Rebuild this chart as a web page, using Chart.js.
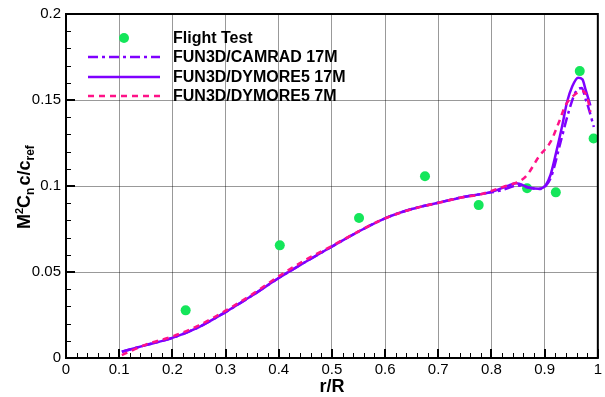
<!DOCTYPE html>
<html>
<head>
<meta charset="utf-8">
<script src="https://cdn.jsdelivr.net/npm/chart.js@4.4.1/dist/chart.umd.min.js"></script>
<style>
  html, body { margin: 0; padding: 0; background: #fff; }
  #wrap { width: 605px; height: 397px; }
</style>
</head>
<body>
<div id="wrap"><canvas id="chart-cn" width="605" height="397"></canvas></div>
<script>
// Flight test data
var rTest  = [0.225, 0.402, 0.551, 0.675, 0.776, 0.867, 0.921, 0.966, 0.992];
var cnTest = [0.0277, 0.0655, 0.0814, 0.1057, 0.0889, 0.0987, 0.0963, 0.1668, 0.1276];

// FUN3D/DYMORE5 17M (solid)
var rDym17  = [0.105, 0.15, 0.2, 0.25, 0.3, 0.35, 0.4, 0.45, 0.5, 0.55, 0.6, 0.65, 0.7, 0.75, 0.8, 0.83, 0.846, 0.871, 0.889, 0.902, 0.911, 0.922, 0.933, 0.942, 0.952, 0.963, 0.971, 0.977, 0.986];
var cnDym17 = [0.0036, 0.0075, 0.0117, 0.018, 0.0267, 0.0363, 0.0465, 0.0558, 0.0648, 0.0735, 0.0812, 0.0866, 0.0903, 0.0938, 0.0966, 0.1, 0.1016, 0.0991, 0.0984, 0.1005, 0.1064, 0.12, 0.135, 0.1487, 0.158, 0.163, 0.162, 0.156, 0.1468];

// FUN3D/CAMRAD 17M (dash-dot)
var rCam17  = [0.105, 0.15, 0.2, 0.25, 0.3, 0.35, 0.4, 0.45, 0.5, 0.55, 0.6, 0.65, 0.7, 0.75, 0.8, 0.82, 0.85, 0.871, 0.889, 0.902, 0.913, 0.93, 0.945, 0.958, 0.97, 0.977, 0.983, 0.9925];
var cnCam17 = [0.0036, 0.0075, 0.0117, 0.018, 0.0267, 0.0363, 0.0465, 0.0558, 0.0648, 0.0735, 0.0812, 0.0866, 0.0903, 0.0938, 0.0963, 0.0976, 0.1003, 0.099, 0.0982, 0.1, 0.106, 0.1256, 0.143, 0.1545, 0.157, 0.1505, 0.1449, 0.1343];

// FUN3D/DYMORE5 7M (dashed)
var rDym7  = [0.105, 0.15, 0.2, 0.25, 0.3, 0.35, 0.4, 0.45, 0.5, 0.55, 0.6, 0.65, 0.7, 0.75, 0.777, 0.8, 0.83, 0.852, 0.867, 0.889, 0.911, 0.927, 0.939, 0.955, 0.9706, 0.98, 0.986];
var cnDym7 = [0.0017, 0.0078, 0.0125, 0.019, 0.0275, 0.037, 0.0475, 0.057, 0.0652, 0.0736, 0.0812, 0.0865, 0.0902, 0.0937, 0.0949, 0.0972, 0.1003, 0.1026, 0.1064, 0.117, 0.1256, 0.1372, 0.1468, 0.1527, 0.1553, 0.1516, 0.143];

var xTickValues = [0, 0.1, 0.2, 0.3, 0.4, 0.5, 0.6, 0.7, 0.8, 0.9, 1];
var xTickLabels = ['0', '0.1', '0.2', '0.3', '0.4', '0.5', '0.6', '0.7', '0.8', '0.9', '1'];
var yTickValues = [0, 0.05, 0.1, 0.15, 0.2];
var yTickLabels = ['0', '0.05', '0.1', '0.15', '0.2'];

var seriesNames = ['Flight Test', 'FUN3D/CAMRAD 17M', 'FUN3D/DYMORE5 17M', 'FUN3D/DYMORE5 7M'];

var GREEN = '#14e65a';
var PURPLE = '#7f00ff';
var PINK = '#ff1288';
var FONT = '"Liberation Sans", Arial, Helvetica, sans-serif';

function toXY(xs, ys) {
  return xs.map(function (x, i) { return { x: x, y: ys[i] }; });
}

function labelFor(values, labels) {
  return function (v) {
    for (var i = 0; i < values.length; i++) {
      if (Math.abs(values[i] - v) < 1e-9) return labels[i];
    }
    return '';
  };
}

// frame, inward ticks, legend and axis titles
var decorPlugin = {
  id: 'decor',
  afterDatasetsDraw: function (chart) {
    var ctx = chart.ctx;
    var a = chart.chartArea;
    var xs = chart.scales.x, ys = chart.scales.y;
    var i, p;
    ctx.save();
    ctx.strokeStyle = '#000';
    // minor ticks
    ctx.lineWidth = 1;
    ctx.beginPath();
    for (i = 1; i < 50; i++) {
      if (i % 5 === 0) continue;
      p = Math.round(xs.getPixelForValue(i * 0.02)) + 0.5;
      ctx.moveTo(p, a.bottom); ctx.lineTo(p, a.bottom - 5);
    }
    for (i = 1; i < 20; i++) {
      if (i % 5 === 0) continue;
      p = Math.round(ys.getPixelForValue(i * 0.01)) + 0.5;
      ctx.moveTo(a.left, p); ctx.lineTo(a.left + 5, p);
    }
    ctx.stroke();
    // major ticks
    ctx.lineWidth = 2;
    ctx.beginPath();
    xTickValues.forEach(function (v) {
      p = Math.round(xs.getPixelForValue(v));
      ctx.moveTo(p, a.bottom); ctx.lineTo(p, a.bottom - 9);
    });
    yTickValues.forEach(function (v) {
      p = Math.round(ys.getPixelForValue(v));
      ctx.moveTo(a.left, p); ctx.lineTo(a.left + 9, p);
    });
    ctx.stroke();
    // frame
    ctx.lineWidth = 2;
    ctx.strokeRect(a.left, a.top, a.right - a.left, a.bottom - a.top);

    // legend
    var rows = [38, 57, 77, 96];
    var ds = chart.data.datasets;
    ctx.font = 'bold 16px ' + FONT;
    ctx.textBaseline = 'middle';
    ctx.textAlign = 'left';
    ctx.fillStyle = '#000';
    for (i = 0; i < rows.length; i++) {
      var d = ds[i];
      if (i === 0) {
        ctx.beginPath();
        ctx.fillStyle = d.pointBackgroundColor;
        ctx.arc(124, rows[i], 5, 0, Math.PI * 2);
        ctx.fill();
      } else {
        ctx.beginPath();
        ctx.strokeStyle = d.borderColor;
        ctx.lineWidth = d.borderWidth;
        ctx.setLineDash(d.borderDash || []);
        ctx.moveTo(88, rows[i]); ctx.lineTo(160, rows[i]);
        ctx.stroke();
        ctx.setLineDash([]);
      }
      ctx.fillStyle = '#000';
      ctx.fillText(d.label, 173, rows[i] + 1);
    }

    // x title
    ctx.font = 'bold 18px ' + FONT;
    ctx.textAlign = 'center';
    ctx.textBaseline = 'alphabetic';
    ctx.fillText('r/R', 332, 392);

    // y title, rotated, with super/subscripts
    ctx.translate(30, 229);
    ctx.rotate(-Math.PI / 2);
    ctx.textAlign = 'left';
    var parts = [
      ['M', 18, 0], ['2', 11, -7], ['C', 18, 0], ['n', 12, 4],
      ['c/c', 18, 0], ['ref', 12, 4]
    ];
    var x = 0;
    parts.forEach(function (pt) {
      ctx.font = 'bold ' + pt[1] + 'px ' + FONT;
      ctx.fillText(pt[0], x, pt[2]);
      x += ctx.measureText(pt[0]).width + (pt[0] === 'n' ? 2 : 0);
    });
    ctx.restore();
  }
};

var chart = new Chart(document.getElementById('chart-cn').getContext('2d'), {
  type: 'line',
  data: {
    datasets: [
      {
        label: seriesNames[0],
        data: toXY(rTest, cnTest),
        showLine: false,
        pointRadius: 5,
        pointBorderWidth: 0,
        pointBackgroundColor: GREEN,
        backgroundColor: GREEN,
        order: 3
      },
      {
        label: seriesNames[1],
        data: toXY(rCam17, cnCam17),
        borderColor: PURPLE,
        borderWidth: 2.5,
        borderDash: [10, 4, 3, 4],
        pointRadius: 0,
        cubicInterpolationMode: 'monotone',
        order: 1
      },
      {
        label: seriesNames[2],
        data: toXY(rDym17, cnDym17),
        borderColor: PURPLE,
        borderWidth: 2.5,
        pointRadius: 0,
        cubicInterpolationMode: 'monotone',
        order: 2
      },
      {
        label: seriesNames[3],
        data: toXY(rDym7, cnDym7),
        borderColor: PINK,
        borderWidth: 2.5,
        borderDash: [6, 5],
        pointRadius: 0,
        cubicInterpolationMode: 'monotone',
        order: 0
      }
    ]
  },
  options: {
    responsive: false,
    animation: false,
    devicePixelRatio: 1,
    layout: { padding: { left: 0, top: 11, right: 6, bottom: 0 } },
    plugins: { legend: { display: false }, tooltip: { enabled: false } },
    scales: {
      x: {
        type: 'linear',
        min: 0, max: 1,
        afterBuildTicks: function (s) { s.ticks = xTickValues.map(function (v) { return { value: v }; }); },
        afterFit: function (s) { s.height = 39; },
        ticks: { callback: labelFor(xTickValues, xTickLabels), color: '#000', padding: 3, maxRotation: 0, autoSkip: false, font: { family: FONT, size: 15 } },
        grid: { color: 'rgba(0,0,0,0.4)', lineWidth: 1, drawTicks: false },
        border: { display: false }
      },
      y: {
        type: 'linear',
        min: 0, max: 0.2,
        afterBuildTicks: function (s) { s.ticks = yTickValues.map(function (v) { return { value: v }; }); },
        afterFit: function (s) { s.width = 66; },
        ticks: { callback: labelFor(yTickValues, yTickLabels), color: '#000', padding: 5, autoSkip: false, font: { family: FONT, size: 15 } },
        grid: { color: 'rgba(0,0,0,0.4)', lineWidth: 1, drawTicks: false },
        border: { display: false }
      }
    }
  },
  plugins: [decorPlugin]
});
</script>
</body>
</html>
